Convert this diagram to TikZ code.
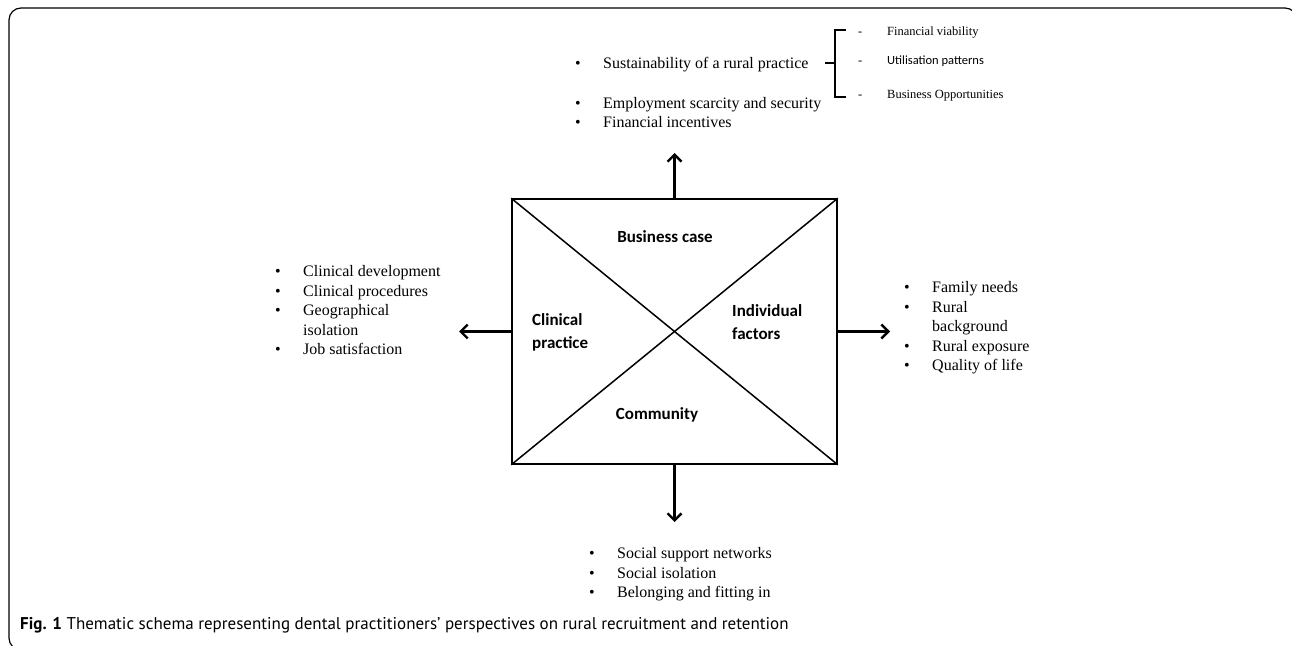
\documentclass[tikz,border=0pt]{standalone}
\usepackage{fontspec}
\setmainfont{Liberation Serif}
\newfontfamily\calibri{Carlito}
\newfontfamily\capfont{PT Sans}
\usetikzlibrary{arrows.meta}

\newcommand{\bul}{\makebox[28pt][l]{\textbullet}}
\newcommand{\dsh}{\makebox[29pt][l]{-}}

\begin{document}
\begin{tikzpicture}[x=1pt,y=-1pt,
    thickarrow/.style={line width=2.4pt,-{Straight Barb[length=7pt,width=14pt]}},
    itemlist/.style={anchor=base west,inner sep=0pt,font=\fontsize{16}{19.5}\selectfont},
    theme/.style={font=\calibri\bfseries\fontsize{17}{23}\selectfont,align=left,inner sep=0pt}]
    \pgfmathsetmacro{\boxWidth}{325}
    \pgfmathsetmacro{\boxHeight}{265}
    \pgfmathsetmacro{\boxX}{674.5}
    \pgfmathsetmacro{\boxY}{331.5}

    \useasboundingbox (0,0) rectangle (1292,645);

    % Frame
    \draw[line width=1.2pt,rounded corners=12pt] (1297,30) -- (1297,8) -- (9,8) -- (9,650) -- (30,650);

    % Central box
    \node[draw,line width=1.5pt,minimum width=\boxWidth,minimum height=\boxHeight,inner sep=0pt] (core) at (\boxX,\boxY) {};
    \draw[line width=1.5pt] (core.north west) -- (core.south east);
    \draw[line width=1.5pt] (core.south west) -- (core.north east);

    % Themes
    \node[theme] (business) at (665,237) {Business case};
    \node[theme,anchor=west] (clinical) at (532,332) {Clinical\\practice};
    \node[theme,anchor=west] (individual) at (732,322.5) {Individual\\factors};
    \node[theme] (community) at (657,415) {Community};

    % Arrows
    \coordinate (topTip) at (\boxX,153);
    \coordinate (leftTip) at (459,\boxY);
    \coordinate (rightTip) at (890,\boxY);
    \coordinate (bottomTip) at (\boxX,522);
    \draw[thickarrow] (core.north) -- (topTip);
    \draw[thickarrow] (core.west) -- (leftTip);
    \draw[thickarrow] (core.east) -- (rightTip);
    \draw[thickarrow] (core.south) -- (bottomTip);

    % Business case
    \node[itemlist] (businessList) at (575,68.5) {\begin{tabular}[t]{@{}l@{}}
        \bul Sustainability of a rural practice\\[20pt]
        \bul Employment scarcity and security\\
        \bul Financial incentives
      \end{tabular}};
    \draw[line width=2.2pt] (846,30) -| (835,97) -- (846,97);
    \draw[line width=2.2pt] (825,63) -- (835,63);
    \node[anchor=base west,inner sep=0pt,font=\fontsize{12.5}{29}\selectfont] (sustainList) at (858,35) {\begin{tabular}[t]{@{}l@{}}
        \dsh Financial viability\\
        \dsh{\calibri Utilisation patterns}\\[5pt]
        \dsh Business Opportunities
      \end{tabular}};

    % Clinical practice
    \node[itemlist] (clinicalList) at (275,276.5) {\begin{tabular}[t]{@{}l@{}}
        \bul Clinical development\\
        \bul Clinical procedures\\
        \bul Geographical\\
        \hspace*{28pt}isolation\\
        \bul Job satisfaction
      \end{tabular}};

    % Individual factors
    \node[itemlist] (individualList) at (904,292.5) {\begin{tabular}[t]{@{}l@{}}
        \bul Family needs\\
        \bul Rural\\
        \hspace*{28pt}background\\
        \bul Rural exposure\\
        \bul Quality of life
      \end{tabular}};

    % Community
    \node[itemlist] (communityList) at (589,558.5) {\begin{tabular}[t]{@{}l@{}}
        \bul Social support networks\\
        \bul Social isolation\\
        \bul Belonging and fitting in
      \end{tabular}};

    % Caption
    \node[anchor=base west,inner sep=0pt,font=\capfont\fontsize{17}{20}\selectfont] (caption) at (20,629)
      {\textbf{Fig. 1} Thematic schema representing dental practitioners’ perspectives on rural recruitment and retention};
\end{tikzpicture}
\end{document}
